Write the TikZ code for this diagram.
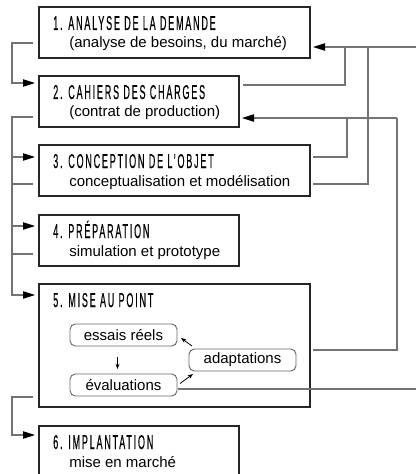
\documentclass[tikz,border=0pt]{standalone}
\usepackage{fontspec}
\setmainfont{Liberation Sans}
\newfontfamily\titlefont[FakeStretch=0.45,LetterSpace=9,FakeBold=0.4]{Liberation Sans}
\usetikzlibrary{calc,arrows.meta}
\tikzset{
  etape/.style={draw=black!85,line width=1.4pt,minimum height=38.25pt,
    inner sep=0pt,outer sep=0pt,anchor=north west},
  titre/.style={inner sep=0pt,anchor=base west,
    font=\titlefont\fontsize{15pt}{17pt}\selectfont},
  detail/.style={inner sep=0pt,anchor=base west,
    font=\fontsize{11.25pt}{13pt}\selectfont},
  bloc/.style={draw=black!60,line width=0.7pt,rounded corners=4pt,
    minimum width=80.25pt,minimum height=16.5pt,inner sep=0pt,outer sep=0pt,
    anchor=north west,font=\fontsize{11.25pt}{13pt}\selectfont},
  lien/.style={draw=black!55,line width=0.8pt},
  fleche/.style={lien,-{Triangle[length=9pt,width=5.5pt,color=black]}},
  petite/.style={draw=black,line width=0.6pt,-{Stealth[length=4pt,width=3pt]}}
}

\begin{document}
\begin{tikzpicture}[x=0.75pt,y=-0.75pt]
\clip (0,0) rectangle (416,474);

% les etapes
\node[etape,minimum width=203.25pt] (b1) at (39,7) {};
\node[etape,minimum width=150pt] (b2) at (39,76) {};
\node[etape,minimum width=203.25pt] (b3) at (39,145) {};
\node[etape,minimum width=150pt] (b4) at (39,215) {};
\node[etape,minimum width=203.25pt,minimum height=92.25pt] (b5) at (39,284) {};
\node[etape,minimum width=150pt] (b6) at (39,426) {};

\node[titre] (t1) at ($(b1.north west)+(14,23)$) {1. ANALYSE DE LA DEMANDE};
\node[detail] (d1) at ($(b1.north west)+(30,41)$) {(analyse de besoins, du marché)};
\node[titre] (t2) at ($(b2.north west)+(14,23)$) {2. CAHIERS DES CHARGES};
\node[detail] (d2) at ($(b2.north west)+(30,41)$) {(contrat de production)};
\node[titre] (t3) at ($(b3.north west)+(14,23)$) {3. CONCEPTION DE L’OBJET};
\node[detail] (d3) at ($(b3.north west)+(30,41)$) {conceptualisation et modélisation};
\node[titre] (t4) at ($(b4.north west)+(14,23)$) {4. PRÉPARATION};
\node[detail] (d4) at ($(b4.north west)+(30,41)$) {simulation et prototype};
\node[titre] (t5) at ($(b5.north west)+(14,23)$) {5. MISE AU POINT};
\node[titre] (t6) at ($(b6.north west)+(14,23)$) {6. IMPLANTATION};
\node[detail] (d6) at ($(b6.north west)+(30,41)$) {mise en marché};

% boucle de mise au point
\node[bloc] (es) at (70,324) {essais réels};
\node[bloc] (ev) at (70,374) {évaluations};
\node[bloc] (ad) at (189,349) {adaptations};
\draw[petite] ($(es.south)+(-6,11)$) -- ($(ev.north)+(-6,-5)$);
\draw[petite] ($(ev.east)+(3,-1.5)$) -- ($(ad.south west)+(4,3)$);
\draw[petite] ($(ad.north west)+(3,-3)$) -- ($(es.east)+(4,3)$);

% a gauche
\coordinate (tronc) at (12,0);
\coordinate (o1) at ($(b1.south west)+(-6,-15)$);
\coordinate (i2) at ($(b2.north west)+(-4,7)$);
\coordinate (o2) at ($(b2.south west)+(-6,-10)$);
\coordinate (i3) at ($(b3.north west)+(-4,12)$);
\coordinate (o3) at ($(b3.south west)+(-6,-12)$);
\coordinate (i4) at ($(b4.north west)+(-4,11)$);
\coordinate (o4) at ($(b4.south west)+(-6,-12)$);
\coordinate (i5) at ($(b5.north west)+(-4,11)$);
\coordinate (o5) at ($(b5.south west)+(-6,-10)$);
\coordinate (i6) at ($(b6.north west)+(-4,9)$);
\draw[fleche] (o1) -| (tronc |- i2) -- (i2);
\draw[fleche] (o2) -| (tronc |- i5) -- (i5);
\draw[fleche] (tronc |- i3) -- (i3);
\draw[fleche] (tronc |- i4) -- (i4);
\draw[lien] (o3) -- (tronc |- o3);
\draw[lien] (o4) -- (tronc |- o4);
\draw[fleche] (o5) -| (tronc |- i6) -- (i6);

% a droite (retours)
\coordinate (bord) at (416,0);
\coordinate (v1) at (345,0);
\coordinate (v2) at (368,0);
\coordinate (v3) at (347,0);
\coordinate (v4) at (397,0);
\coordinate (r1) at ($(b1.north east)+(3,40)$);
\coordinate (p2) at ($(b2.north east)+(4,9)$);
\coordinate (r2) at ($(b2.south east)+(3,-9)$);
\coordinate (p3) at ($(b3.north east)+(3,12)$);
\coordinate (q3) at ($(b3.south east)+(3,-12)$);
\coordinate (p5) at ($(b5.north east)+(3,66)$);
\coordinate (p6) at ($(ev.south east)+(1,-7)$);
\draw[fleche] (bord |- r1) -- (r1);
\draw[lien] (p2) -| (v1 |- r1);
\draw[lien] (q3) -| (v2 |- r1);
\draw[fleche] (v4 |- r2) -- (r2);
\draw[lien] (p3) -| (v3 |- r2);
\draw[lien] (p5) -| (v4 |- r2);
\draw[lien] (p6) -- (bord |- p6);
\end{tikzpicture}
\end{document}
